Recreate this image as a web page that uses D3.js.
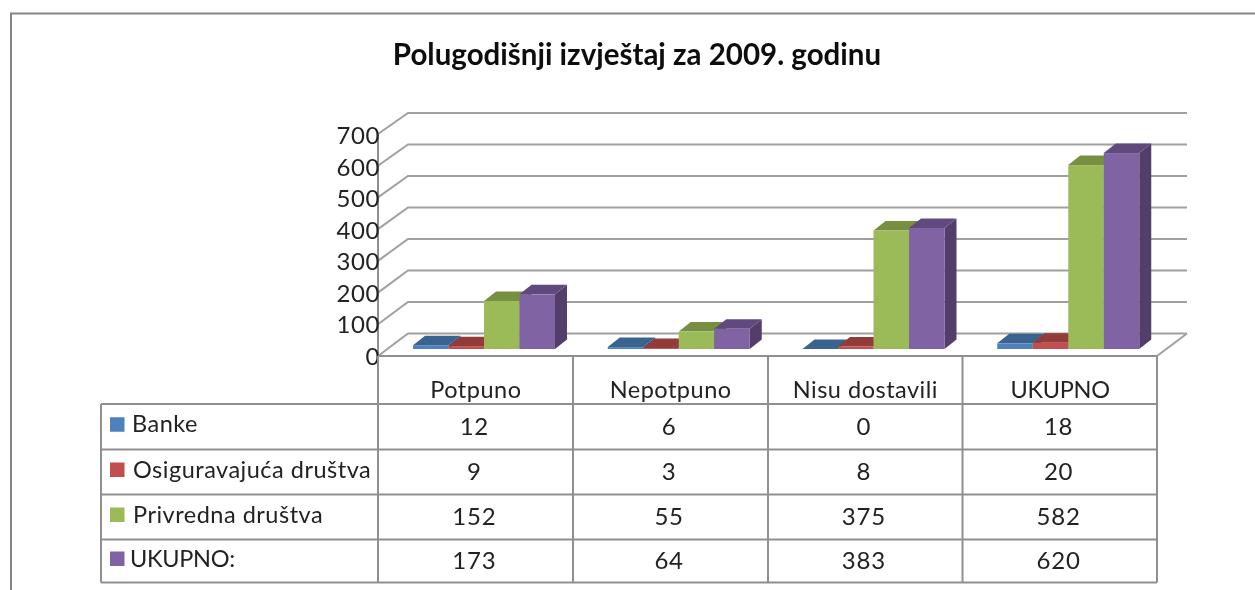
<!DOCTYPE html>
<html><head><meta charset="utf-8">
<script src="https://cdnjs.cloudflare.com/ajax/libs/d3/7.8.5/d3.min.js"></script>
<style>
html,body{margin:0;padding:0;background:#fff;overflow:hidden}
text{font-family:Lato,"Open Sans",sans-serif;fill:#222}
</style></head><body>
<svg id="c" width="1255" height="590"></svg>
<script>
const chartTitle = "Polugodišnji izvještaj za 2009. godinu";
const categories = ["Potpuno","Nepotpuno","Nisu dostavili","UKUPNO"];
const seriesNames = ["Banke","Osiguravajuća društva","Privredna društva","UKUPNO:"];
const banke = [12,6,0,18];
const osiguravajuca = [9,3,8,20];
const privredna = [152,55,375,582];
const ukupno = [173,64,383,620];
const yTicks = [0,100,200,300,400,500,600,700];
const seriesValues = [banke,osiguravajuca,privredna,ukupno];
const frontColors = ["#4f81bd","#c0504d","#9bbb59","#8064a2"];
const topColors = ["#3b6490","#933a37","#778f40","#614a7d"];
const sideColor = "#533e6a";
const lineColor = "#8f8f8f";

const svg = d3.select("#c");
const defs = svg.append("defs");
defs.append("filter").attr("id","soft").attr("x","-5%").attr("y","-5%").attr("width","110%").attr("height","110%")
  .append("feGaussianBlur").attr("stdDeviation",0.45);
const root = svg.append("g").attr("filter","url(#soft)");

// outer frame
root.append("path").attr("d","M11,590V13.5H1255").attr("fill","none").attr("stroke","#858585").attr("stroke-width",2);

root.append("text").attr("x",637).attr("y",65).attr("text-anchor","middle")
  .attr("font-size",29.5).attr("font-weight",700).style("fill","#111").text(chartTitle);

const x = d3.scaleBand().domain(categories).range([378,1157]);
const yFront = d3.scaleLinear().domain([0,700]).range([356,134]);
const yBack = d3.scaleLinear().domain([0,700]).range([333.5,113]);
const yBar = d3.scaleLinear().domain([0,700]).range([349,127.8]);
const yLabel = d3.scaleLinear().domain([0,700]).range([356,135.5]);
const backX0 = 408, backX1 = 1187;
const grid = root.append("g").attr("fill","none").attr("stroke",lineColor).attr("stroke-width",2);
yTicks.forEach(t=>{
  grid.append("path").attr("stroke","#a0a0a0").attr("d",`M378,${yFront(t)}L${backX0},${yBack(t)}H${backX1}`);
});
// floor
grid.append("path").attr("stroke","#a0a0a0").attr("d",`M1157,356L${backX1},${yBack(0)}`);
grid.append("path").attr("d",`M378,${yFront(700)}V356`);

// tick labels
const axis = d3.axisLeft(yLabel).tickValues(yTicks).tickSize(0).tickPadding(0);
const ag = root.append("g").attr("transform","translate(380,0)").call(axis);
ag.select(".domain").remove();
ag.attr("font-family",null);
ag.selectAll("text").attr("font-size",24).attr("letter-spacing",0.6).style("fill","#222").attr("dy","0.34em");

// bars
const inner = d3.scaleBand().domain(d3.range(seriesNames.length)).range([35,177]);
const dx = 12, dy = -9.5;
const bars = root.append("g");
categories.forEach((c,ci)=>{
  seriesValues.forEach((vals,si)=>{
    const v = vals[ci];
    const x0 = x(c)+inner(si), w = inner.bandwidth(), y0 = yBar(0), yt = yBar(v);
    const g = bars.append("g");
    g.append("path").attr("fill",sideColor).attr("d",`M${x0+w},${yt}l${dx},${dy}V${y0+dy}l${-dx},${-dy}Z`);
    g.append("path").attr("fill",topColors[si]).attr("d",`M${x0},${yt}l${dx},${dy}h${w}l${-dx},${-dy}Z`);
    g.append("rect").attr("x",x0).attr("y",yt).attr("width",w).attr("height",y0-yt).attr("fill",frontColors[si]);
  });
});

// data table
const rowEdges = [356,404,449.5,494.5,539.5,582.5];
const tbl = root.append("g").attr("fill","none").attr("stroke",lineColor).attr("stroke-width",2);
rowEdges.forEach((r,i)=>{
  tbl.append("path").attr("d",`M${i===0?378:101},${r}H1157`);
});
tbl.append("path").attr("d",`M101,404V582.5`);
[378,573,768,962.5,1157].forEach(v=>{
  tbl.append("path").attr("d",`M${v},356V582.5`);
});
const fs = 23.5, fsNum = 24;
const spacing = s => /^[A-Z:]+$/.test(s) ? -0.3 : 0.5;
categories.forEach(c=>{
  root.append("text").attr("x",x(c)+x.bandwidth()/2+0.5).attr("y",398).attr("text-anchor","middle")
    .attr("font-size",fs).attr("letter-spacing",spacing(c)).text(c);
});
const labelX = [132,133,133,130];
seriesNames.forEach((n,si)=>{
  const mid = (rowEdges[si+1]+rowEdges[si+2])/2;
  root.append("rect").attr("x",110).attr("y",mid-9.5).attr("width",14.5).attr("height",14.5).attr("fill",frontColors[si]);
  root.append("text").attr("x",labelX[si]).attr("y",mid+5.5).attr("font-size",fs).attr("letter-spacing",spacing(n)).text(n);
  seriesValues[si].forEach((v,ci)=>{
    root.append("text").attr("x",x(categories[ci])+x.bandwidth()/2-1).attr("y",mid+8).attr("text-anchor","middle")
      .attr("font-size",fsNum).attr("letter-spacing",0.8).text(v);
  });
});
</script></body></html>
